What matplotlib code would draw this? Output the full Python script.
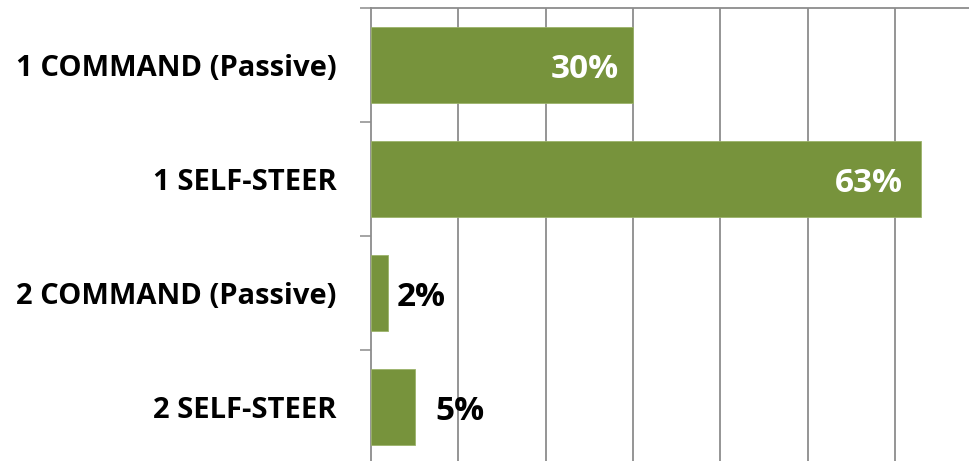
import matplotlib.pyplot as plt

# dados do grafico
categorias = ["1 COMMAND (Passive)", "1 SELF-STEER", "2 COMMAND (Passive)", "2 SELF-STEER"]
valores = [30, 63, 2, 5]
rotulos = ["30%", "63%", "2%", "5%"]
dentro = [True, True, False, False]

VERDE = "#77933C"
CINZA = "#8C8C8C"

plt.rcParams["font.family"] = ["Open Sans", "DejaVu Sans"]

fig = plt.figure(figsize=(9.69, 4.61), dpi=100)
ax = fig.add_axes([371 / 969, -3 / 461, 598 / 969, 456 / 461])

pos = list(range(len(categorias)))
ax.barh(pos, valores, height=0.66, color=VERDE, edgecolor="#9BB36A", linewidth=0.6, zorder=3)

ax.set_xlim(0, 598 / 8.73)
ax.set_ylim(3.5, -0.5)

# grade vertical a cada 10%
ax.set_xticks(range(10, 70, 10))
ax.tick_params(axis="x", which="both", length=0, labelbottom=False)
ax.grid(axis="x", color=CINZA, linewidth=1.3, zorder=0)

ax.set_yticks(pos)
ax.set_yticklabels(categorias, fontsize=21, fontweight="bold")
ax.set_yticks([p + 0.5 for p in range(-1, len(categorias))], minor=True)
ax.tick_params(axis="y", which="major", length=0, pad=25)
ax.tick_params(axis="y", which="minor", length=8, width=1.1, color=CINZA)

for lado in ["right", "bottom"]:
    ax.spines[lado].set_visible(False)
for lado in ["left", "top"]:
    ax.spines[lado].set_color(CINZA)
    ax.spines[lado].set_linewidth(1.3)

deslocamentos = [-10, -13, 6, 15]
for y, v, txt, d, off in zip(pos, valores, rotulos, dentro, deslocamentos):
    if d:
        ax.annotate(txt, (v, y), xytext=(off, -3), textcoords="offset points",
                    ha="right", va="center", color="white", fontsize=24,
                    fontweight="bold", zorder=4)
    else:
        ax.annotate(txt, (v, y), xytext=(off, -3), textcoords="offset points",
                    ha="left", va="center", color="black", fontsize=24,
                    fontweight="bold", zorder=4)

fig.savefig("out.png", dpi=100)
